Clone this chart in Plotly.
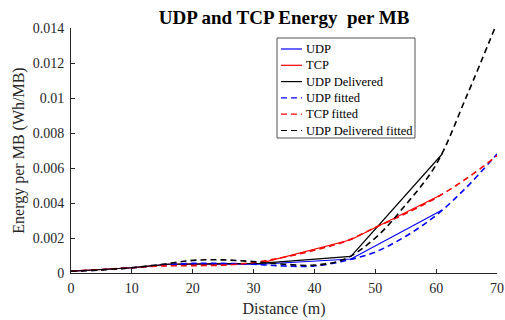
import plotly.graph_objects as go

# measured data
dist = [0, 10, 16, 31, 46, 61]
udp = [0.0001, 0.0003, 0.0005, 0.0005, 0.0008, 0.0036]
tcp = [0.0001, 0.0003, 0.0005, 0.00055, 0.0019, 0.0045]
udp_deliv = [0.0001, 0.0003, 0.0005, 0.00055, 0.00095, 0.0068]

# fitted curves
fit_x = [0, 5, 10, 15, 20, 25, 30, 35, 40, 45, 50, 55, 60, 65, 70]
udp_fit = [0.0001, 0.00018, 0.0003, 0.00045, 0.00055, 0.00055, 0.0005, 0.0004, 0.0004, 0.0007,
           0.0012, 0.0021, 0.0033, 0.0049, 0.0068]
tcp_fit = [0.0001, 0.0002, 0.0003, 0.0004, 0.00042, 0.00045, 0.0006, 0.0009, 0.0013, 0.0018,
           0.0026, 0.0034, 0.0043, 0.0054, 0.0067]
udp_deliv_fit = [0.0001, 0.00018, 0.0003, 0.0005, 0.00072, 0.00075, 0.00065, 0.0005, 0.00045, 0.0008,
                 0.002, 0.0039, 0.0062, 0.0101, 0.0143]

series_names = ["UDP", "TCP", "UDP Delivered", "UDP fitted", "TCP fitted", "UDP Delivered fitted"]

x_ticks = [0, 10, 20, 30, 40, 50, 60, 70]
y_ticks = [0, 0.002, 0.004, 0.006, 0.008, 0.01, 0.012, 0.014]
y_labels = ["0", "0.002", "0.004", "0.006", "0.008", "0.01", "0.012", "0.014"]

FONT = "Liberation Serif"
DASH = "6px,4px"
AX = "#262626"

solid = lambda c: dict(color=c, width=1.2)
dashed = lambda c: dict(color=c, width=1.6, dash=DASH, shape="spline")
styles = [solid("#0000ff"), solid("#ff0000"), solid("#000000"),
          dashed("#0000ff"), dashed("#ff0000"), dashed("#000000")]
xs = [dist, dist, dist, fit_x, fit_x, fit_x]
ys = [udp, tcp, udp_deliv, udp_fit, tcp_fit, udp_deliv_fit]

fig = go.Figure()
for name, x, y, st in zip(series_names, xs, ys, styles):
    fig.add_trace(go.Scatter(x=x, y=y, mode="lines", name=name, line=st, showlegend=False))

# custom legend (MATLAB-style compact box)
L, R, T, B = 0.4836, 0.8075, 0.9592, 0.551
fig.add_shape(type="rect", xref="paper", yref="paper", x0=L, x1=R, y0=B, y1=T,
              line=dict(color=AX, width=0.8), fillcolor="white", layer="above")
row0 = (273 - 49) / 245
step = 16.3 / 245
for i, (name, st) in enumerate(zip(series_names, styles)):
    yy = row0 - i * step
    fig.add_shape(type="line", xref="paper", yref="paper",
                  x0=(281 - 71) / 426, x1=(302 - 71) / 426, y0=yy, y1=yy,
                  line=dict(color=st["color"], width=1.2, dash=st.get("dash", "solid")),
                  layer="above")
    fig.add_annotation(x=(304 - 71) / 426, y=yy, xref="paper", yref="paper",
                       text=name, showarrow=False, xanchor="left", yanchor="middle",
                       font=dict(family=FONT, size=12.5, color="#000000"))

fig.update_layout(
    width=505, height=320,
    margin=dict(l=71, r=8, t=28, b=47, autoexpand=False),
    paper_bgcolor="white", plot_bgcolor="white",
    font=dict(family=FONT, size=14, color=AX),
    title=dict(text="<b>UDP and TCP Energy  per MB</b>", x=0.5625, xanchor="center",
               y=0.945, yanchor="middle", font=dict(family=FONT, size=19, color="#000000")),
    showlegend=False,
)
fig.update_xaxes(range=[0, 70], tickvals=x_ticks, ticks="inside", ticklen=4,
                 showline=True, linecolor=AX, linewidth=1, showgrid=False,
                 zeroline=False, tickcolor=AX, tickfont=dict(family=FONT, size=14),
                 ticklabelstandoff=2, automargin=False,
                 title=dict(text="Distance (m)", font=dict(family=FONT, size=16), standoff=8))
fig.update_yaxes(range=[0, 0.014], tickvals=y_ticks, ticktext=y_labels, ticks="inside",
                 ticklen=4, showline=True, linecolor=AX, linewidth=1, showgrid=False,
                 zeroline=False, tickcolor=AX, tickfont=dict(family=FONT, size=14),
                 ticklabelstandoff=3, automargin=False,
                 title=dict(text="Energy per MB (Wh/MB)", font=dict(family=FONT, size=16), standoff=4))

fig.write_html("out.html")
